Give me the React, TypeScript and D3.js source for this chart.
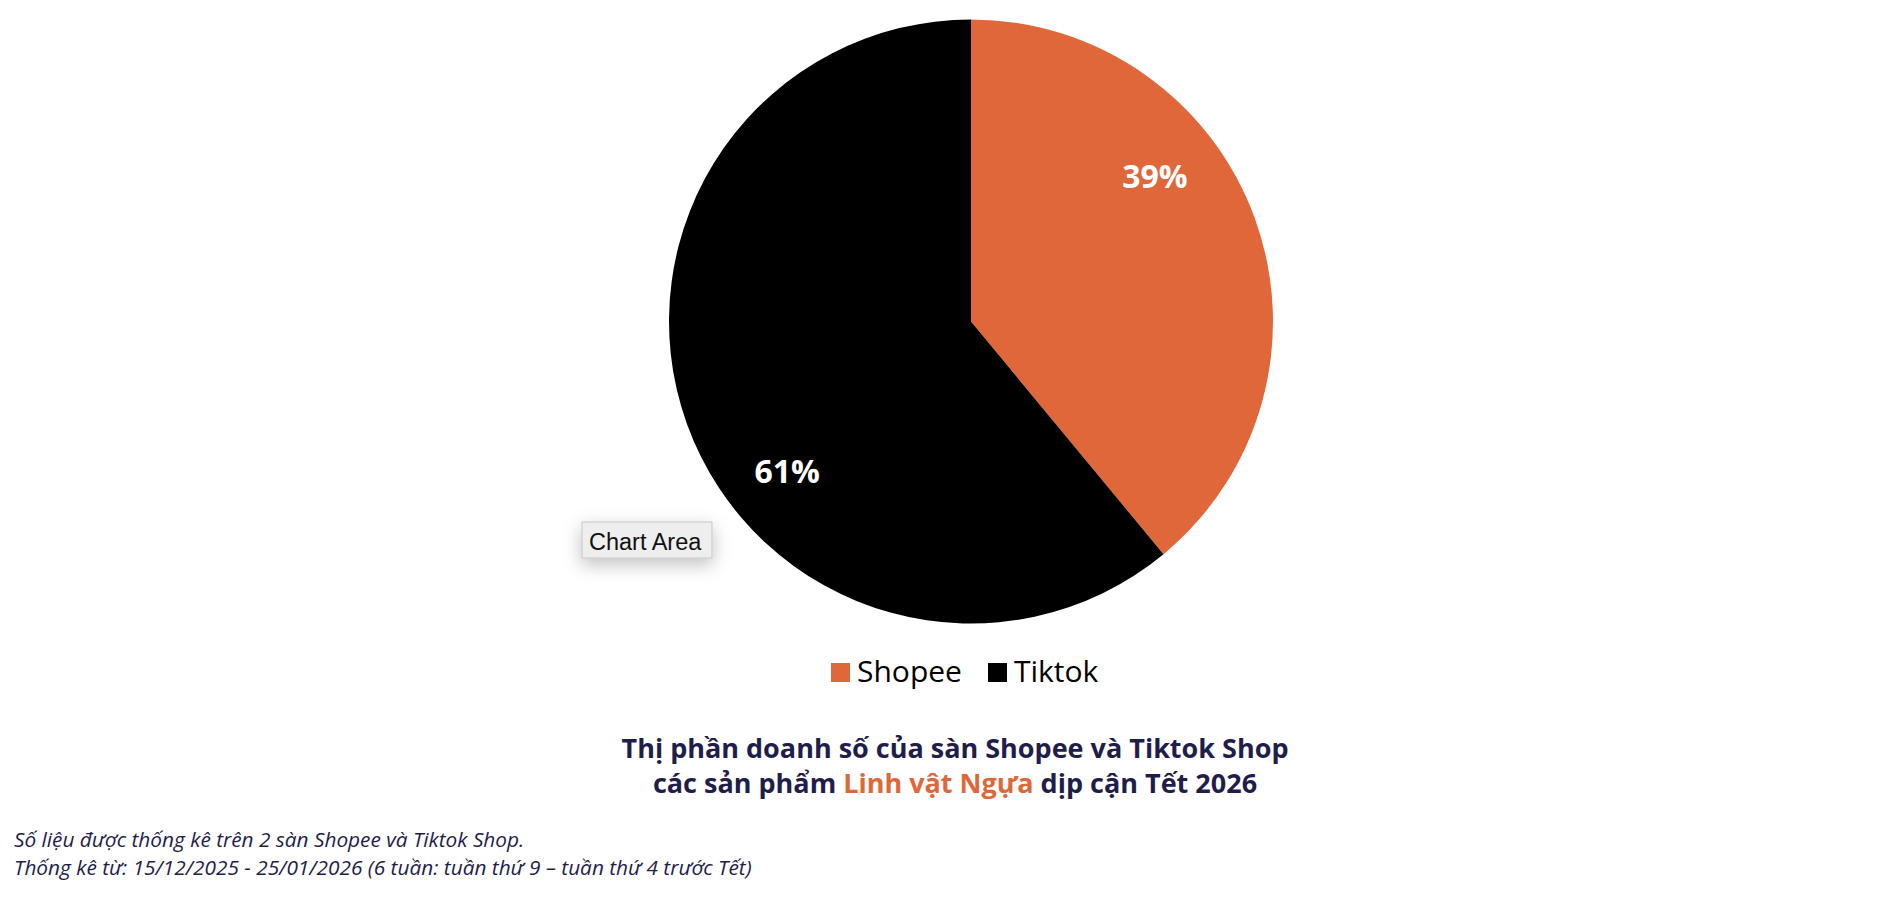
import * as d3 from "d3";

const WIDTH = 1900;
const HEIGHT = 900;

// market share by platform (%)
const platforms = ["Shopee", "Tiktok"];
const shares = [39, 61];
const sliceColors = ["#E0673A", "#000000"];

const titleLine1 = "Thị phần doanh số của sàn Shopee và Tiktok Shop";
const titleLine2 = ["các sản phẩm ", "Linh vật Ngựa", " dịp cận Tết 2026"];
const notes = [
  "Số liệu được thống kê trên 2 sàn Shopee và Tiktok Shop.",
  "Thống kê từ: 15/12/2025 - 25/01/2026 (6 tuần: tuần thứ 9 – tuần thứ 4 trước Tết)",
];

const NAVY = "#1f1d4a";
const FONT = "'Open Sans', 'Noto Sans', sans-serif";

const CX = 971;
const CY = 321.5;
const RADIUS = 302;
const LABEL_RADIUS = 236;
const LABEL_SHIFT = (-19 * Math.PI) / 180;

export default function App() {
  const slices = d3
    .pie<number>()
    .sort(null)
    .value((d) => d)(shares);

  const arc = d3
    .arc<d3.PieArcDatum<number>>()
    .innerRadius(0)
    .outerRadius(RADIUS);

  const labelPos = (s: d3.PieArcDatum<number>) => {
    const a = (s.startAngle + s.endAngle) / 2 + LABEL_SHIFT;
    return [Math.sin(a) * LABEL_RADIUS, -Math.cos(a) * LABEL_RADIUS];
  };

  const legendX = d3.scalePoint<string>().domain(platforms).range([831, 988]);

  return (
    <div style={{ position: "absolute", left: 0, top: 0, background: "#fff" }}>
      <svg width={WIDTH} height={HEIGHT} style={{ display: "block" }}>
        <defs>
          <filter id="tip-shadow" x="-50%" y="-80%" width="200%" height="260%">
            <feDropShadow dx="0" dy="6" stdDeviation="9" floodColor="#000" floodOpacity="0.25" />
          </filter>
        </defs>
        <rect width={WIDTH} height={HEIGHT} fill="#fff" />

        <g transform={`translate(${CX},${CY})`}>
          {slices.map((s, i) => (
            <path key={platforms[i]} d={arc(s) ?? ""} fill={sliceColors[i]} />
          ))}
          {slices.map((s, i) => {
            const [x, y] = labelPos(s);
            return (
              <text
                key={`lbl-${platforms[i]}`}
                x={x}
                y={y}
                dy="0.44em"
                textAnchor="middle"
                fill="#fff"
                fontFamily={FONT}
                fontWeight={700}
                fontSize={32}
              >
                {`${s.data}%`}
              </text>
            );
          })}
        </g>

        {/* hover tooltip left over in the screenshot */}
        <g>
          <rect
            x={582}
            y={522}
            width={130}
            height={36}
            fill="#eeeeee"
            stroke="#c6c6c6"
            strokeWidth={1}
            filter="url(#tip-shadow)"
          />
          <text x={589} y={550} fontFamily="'Liberation Sans', Arial, sans-serif" fontSize={23.5} fill="#111">
            Chart Area
          </text>
        </g>

        <g fontFamily={FONT} fontSize={30} fill="#000">
          {platforms.map((p, i) => (
            <g key={p} transform={`translate(${legendX(p)},0)`}>
              <rect x={0} y={663} width={19} height={19} fill={sliceColors[i]} />
              <text x={26} y={682}>
                {p}
              </text>
            </g>
          ))}
        </g>

        <g fontFamily={FONT} fontWeight={700} fontSize={27} fill={NAVY} textAnchor="middle">
          <text x={955} y={758}>
            {titleLine1}
          </text>
          <text x={955} y={793}>
            <tspan>{titleLine2[0]}</tspan>
            <tspan fill="#E0673A">{titleLine2[1]}</tspan>
            <tspan>{titleLine2[2]}</tspan>
          </text>
        </g>

        <g fontFamily={FONT} fontStyle="italic" fontSize={20.8} fill={NAVY}>
          {notes.map((n, i) => (
            <text key={i} x={14} y={847 + i * 28}>
              {n}
            </text>
          ))}
        </g>
      </svg>
    </div>
  );
}
